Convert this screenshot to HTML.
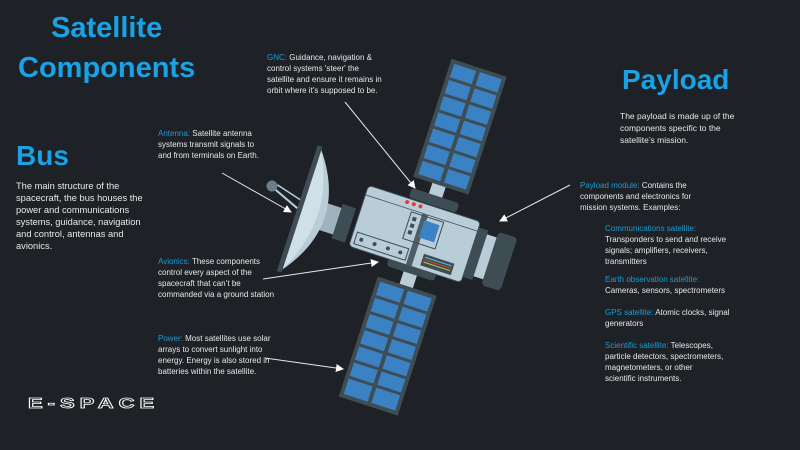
<!DOCTYPE html>
<html><head><meta charset="utf-8"><style>
body{margin:0;width:800px;height:450px;background:#1e2125;overflow:hidden;position:relative;font-family:"Liberation Sans",sans-serif;color:#e8e8e8}
.t{position:absolute;font-size:8px;line-height:11px;white-space:nowrap}
.b{color:#1a9cd6}
.h{position:absolute;color:#19a3e6;font-weight:bold;white-space:nowrap}
</style></head><body>
<div class="h" style="left:18px;top:8px;font-size:29px;line-height:40px;text-align:center">Satellite<br>Components</div>
<div class="h" style="left:16px;top:140px;font-size:28px">Bus</div>
<div class="t" style="left:16px;top:180px;font-size:9.3px;line-height:12px">The main structure of the<br>spacecraft, the bus houses the<br>power and communications<br>systems, guidance, navigation<br>and control, antennas and<br>avionics.</div>
<div class="t" style="left:158px;top:128px"><span class="b">Antenna:</span> Satellite antenna<br>systems transmit signals to<br>and from terminals on Earth.</div>
<div class="t" style="left:158px;top:256px"><span class="b">Avionics:</span> These components<br>control every aspect of the<br>spacecraft that can’t be<br>commanded via a ground station</div>
<div class="t" style="left:158px;top:333px"><span class="b">Power:</span> Most satellites use solar<br>arrays to convert sunlight into<br>energy. Energy is also stored in<br>batteries within the satellite.</div>
<div class="t" style="left:267px;top:52px"><span class="b">GNC:</span> Guidance, navigation &amp;<br>control systems 'steer' the<br>satellite and ensure it remains in<br>orbit where it’s supposed to be.</div>
<div class="h" style="left:622px;top:64px;font-size:28px">Payload</div>
<div class="t" style="left:620px;top:110px;font-size:8.5px;line-height:12px">The payload is made up of the<br>components specific to the<br>satellite’s mission.</div>
<div class="t" style="left:580px;top:180px"><span class="b">Payload module:</span> Contains the<br>components and electronics for<br>mission systems. Examples:</div>
<div class="t" style="left:605px;top:223px"><span class="b">Communications satellite:</span><br>Transponders to send and receive<br>signals; amplifiers, receivers,<br>transmitters</div>
<div class="t" style="left:605px;top:274px"><span class="b">Earth observation satellite:</span><br>Cameras, sensors, spectrometers</div>
<div class="t" style="left:605px;top:307px"><span class="b">GPS satellite:</span> Atomic clocks, signal<br>generators</div>
<div class="t" style="left:605px;top:340px"><span class="b">Scientific satellite:</span> Telescopes,<br>particle detectors, spectrometers,<br>magnetometers, or other<br>scientific instruments.</div>
<div style="position:absolute;left:28px;top:395px;font-size:22px;letter-spacing:5px;color:#1e2125;-webkit-text-stroke:1.2px #fff;font-weight:bold;transform:scaleY(0.65);transform-origin:top left">E-SPACE</div>
<svg width="800" height="450" style="position:absolute;left:0;top:0">
<defs><marker id="a" markerWidth="8" markerHeight="8" refX="7" refY="4" orient="auto" markerUnits="userSpaceOnUse"><path d="M0,0 L8,4 L0,8z" fill="#fff"/></marker></defs>
<g transform="rotate(18 315 215)">
<rect x="320" y="200" width="20" height="28" fill="#9fb3bf"/>
<rect x="338" y="196" width="14" height="36" fill="#3e4c54"/>
<path d="M300,150 Q350,214 300,278 Z" fill="#b8cdd8"/>
<path d="M300,150 Q335,214 300,278 Z" fill="#d0e0e8"/>
<rect x="296" y="148" width="5" height="132" fill="#3e4c54"/>
<line x1="296" y1="214" x2="262" y2="200" stroke="#b8cdd8" stroke-width="2"/>
<line x1="296" y1="205" x2="270" y2="198" stroke="#b8cdd8" stroke-width="1.5"/>
</g>
<circle cx="272" cy="186" r="5.5" fill="#6b7d87"/>
<g transform="rotate(18 415 233)">
<rect x="416" y="178" width="14" height="16" fill="#b8cdd8"/>
<rect x="398" y="191" width="50" height="10" rx="3" fill="#3e4c54"/>
<rect x="396" y="56" width="58" height="124" fill="#3e4c54"/>
<g fill="#3b82c4">
<rect x="400" y="60" width="23" height="14"/><rect x="427" y="60" width="23" height="14"/>
<rect x="400" y="77" width="23" height="14"/><rect x="427" y="77" width="23" height="14"/>
<rect x="400" y="94" width="23" height="14"/><rect x="427" y="94" width="23" height="14"/>
<rect x="400" y="111" width="23" height="14"/><rect x="427" y="111" width="23" height="14"/>
<rect x="400" y="128" width="23" height="14"/><rect x="427" y="128" width="23" height="14"/>
<rect x="400" y="145" width="23" height="14"/><rect x="427" y="145" width="23" height="14"/>
<rect x="400" y="162" width="23" height="14"/><rect x="427" y="162" width="23" height="14"/>
</g>
<rect x="416" y="272" width="14" height="16" fill="#b8cdd8"/>
<rect x="398" y="264" width="50" height="9" rx="3" fill="#3e4c54"/>
<rect x="393" y="286" width="62" height="126" fill="#3e4c54"/>
<g fill="#3b82c4">
<rect x="397" y="290" width="25" height="14"/><rect x="426" y="290" width="25" height="14"/>
<rect x="397" y="307" width="25" height="14"/><rect x="426" y="307" width="25" height="14"/>
<rect x="397" y="324" width="25" height="14"/><rect x="426" y="324" width="25" height="14"/>
<rect x="397" y="341" width="25" height="14"/><rect x="426" y="341" width="25" height="14"/>
<rect x="397" y="358" width="25" height="14"/><rect x="426" y="358" width="25" height="14"/>
<rect x="397" y="375" width="25" height="14"/><rect x="426" y="375" width="25" height="14"/>
<rect x="397" y="392" width="25" height="16"/><rect x="426" y="392" width="25" height="16"/>
</g>
<rect x="472" y="208" width="12" height="52" fill="#3e4c54"/>
<rect x="484" y="212" width="12" height="44" fill="#b8cdd8"/>
<rect x="494" y="206" width="20" height="56" rx="4" fill="#3e4c54"/>
<rect x="356" y="202" width="118" height="64" rx="4" fill="#b8cdd8"/>
<rect x="356" y="202" width="118" height="64" rx="4" fill="none" stroke="#3e4c54" stroke-width="1"/>
<line x1="356" y1="212" x2="474" y2="212" stroke="#3e4c54" stroke-width="0.8"/>
<rect x="416" y="212" width="6" height="54" fill="#4e5e66"/>
<rect x="405" y="214" width="34" height="28" fill="none" stroke="#3e4c54"/>
<rect x="420" y="218" width="16" height="18" fill="#3b82c4"/>
<rect x="408" y="218" width="4" height="4" fill="#3e4c54"/><rect x="408" y="225" width="4" height="4" fill="#3e4c54"/><rect x="408" y="232" width="4" height="4" fill="#3e4c54"/>
<circle cx="398" cy="206" r="2" fill="#e53935"/><circle cx="405" cy="206" r="2" fill="#e53935"/><circle cx="412" cy="206" r="2" fill="#e53935"/>
<rect x="360" y="250" width="54" height="12" fill="none" stroke="#3e4c54"/>
<circle cx="366" cy="256" r="2" fill="#3e4c54"/><circle cx="380" cy="256" r="2" fill="#3e4c54"/><circle cx="394" cy="256" r="2" fill="#3e4c54"/><circle cx="407" cy="256" r="2" fill="#3e4c54"/>
<rect x="430" y="250" width="32" height="12" fill="#3e4c54"/>
<line x1="432" y1="253" x2="460" y2="253" stroke="#4fc3f7"/><line x1="432" y1="255.5" x2="460" y2="255.5" stroke="#e53935"/><line x1="432" y1="258" x2="460" y2="258" stroke="#c0ca33"/>
</g>
<g stroke="#e8e8e8" stroke-width="1" marker-end="url(#a)">
<line x1="222" y1="173" x2="291" y2="212"/>
<line x1="263" y1="279" x2="378" y2="262"/>
<line x1="265" y1="358" x2="343" y2="369"/>
<line x1="345" y1="102" x2="415" y2="188"/>
<line x1="570" y1="185" x2="500" y2="221"/>
</g>
</svg>
</body></html>
